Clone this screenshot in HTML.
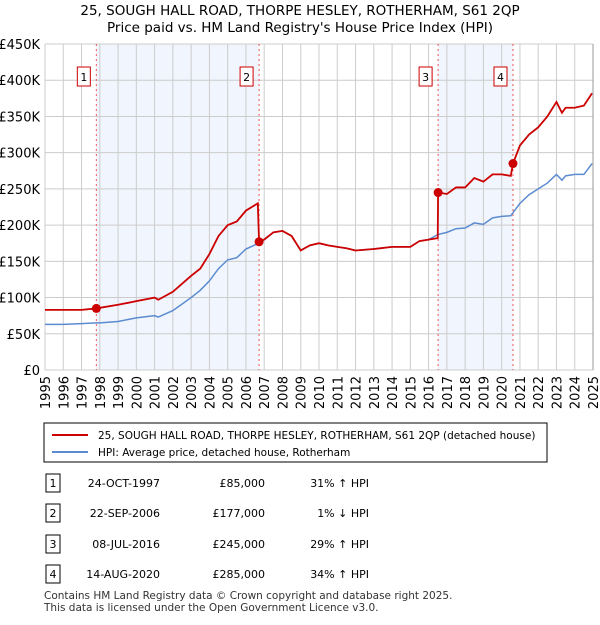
<!DOCTYPE html>
<html><head><meta charset="utf-8"><style>
body{margin:0;background:#fff;font-family:"Liberation Sans","DejaVu Sans",sans-serif;}
svg text{font-family:"DejaVu Sans","Liberation Sans",sans-serif;}
</style></head><body>
<svg id="c" width="600" height="620" xmlns="http://www.w3.org/2000/svg">
<text x="300" y="15" text-anchor="middle" font-size="13.5">25, SOUGH HALL ROAD, THORPE HESLEY, ROTHERHAM, S61 2QP</text>
<text x="300" y="32" text-anchor="middle" font-size="13.5">Price paid vs. HM Land Registry's House Price Index (HPI)</text>
<g id="plot"></g>
<rect x="44" y="423" width="503" height="39" fill="#fff" stroke="#000" stroke-width="1"/>
<line x1="52" y1="435" x2="88" y2="435" stroke="#cc0000" stroke-width="2"/>
<text x="98" y="439" font-size="10.5">25, SOUGH HALL ROAD, THORPE HESLEY, ROTHERHAM, S61 2QP (detached house)</text>
<line x1="52" y1="452" x2="88" y2="452" stroke="#5b8bd0" stroke-width="2"/>
<text x="98" y="456" font-size="10.5">HPI: Average price, detached house, Rotherham</text>
<g id="tbl" font-size="11"></g>
<text x="44" y="599" font-size="10.5" fill="#333">Contains HM Land Registry data © Crown copyright and database right 2025.</text>
<text x="44" y="611" font-size="10.5" fill="#333">This data is licensed under the Open Government Licence v3.0.</text>
</svg>
<script>
const hpiT=[1995,1996,1997,1997.8,1998,1999,2000,2001,2001.2,2002,2003,2003.5,2004,2004.5,2005,2005.5,2006,2006.7,2007,2007.5,2008,2008.5,2009,2009.5,2010,2010.5,2011,2011.5,2012,2013,2014,2015,2015.5,2016,2016.5,2017,2017.5,2018,2018.5,2019,2019.5,2020,2020.5,2021,2021.5,2022,2022.5,2023,2023.3,2023.5,2024,2024.5,2024.95];
const hpiV=[63,63,64,65,65,67,72,75,73,82,100,110,123,140,152,155,167,175,180,190,192,185,165,172,175,172,170,168,165,167,170,170,178,180,187,190,195,196,203,201,210,212,213,230,242,250,258,270,262,268,270,270,285];
const redT=[1995,1997,1997.8,1999,2000,2001,2001.2,2002,2003,2003.5,2004,2004.5,2005,2005.5,2006,2006.65,2006.72,2007,2007.5,2008,2008.5,2009,2009.5,2010,2010.5,2011,2011.5,2012,2013,2014,2015,2015.5,2016,2016.5,2016.52,2017,2017.5,2018,2018.5,2019,2019.5,2020,2020.5,2020.62,2021,2021.5,2022,2022.5,2023,2023.3,2023.5,2024,2024.5,2024.95];
const redV=[83,83,85,90,95,100,97,108,130,140,160,185,200,205,220,230,177,180,190,192,185,165,172,175,172,170,168,165,167,170,170,178,180,182,245,243,252,252,265,260,270,270,268,285,310,325,335,350,370,355,362,362,365,382];
const saleT=[1997.81,2006.72,2016.52,2020.62];
const saleV=[85,177,245,285];
const saleDates=["24-OCT-1997","22-SEP-2006","08-JUL-2016","14-AUG-2020"];
const salePrices=["£85,000","£177,000","£245,000","£285,000"];
const saleHpi=["31% ↑ HPI","1% ↓ HPI","29% ↑ HPI","34% ↑ HPI"];
const yTicks=[0,50,100,150,200,250,300,350,400,450];
const yLabels=["£0","£50K","£100K","£150K","£200K","£250K","£300K","£350K","£400K","£450K"];
const NS="http://www.w3.org/2000/svg";
const X0=45,X1=593,Y0=370,Y1=44;
const xs=t=>X0+(t-1995)/30*(X1-X0);
const ys=v=>Y0-v/450*(Y0-Y1);
const g=document.getElementById('plot');
function mk(tag,a,p){const e=document.createElementNS(NS,tag);for(const k in a)e.setAttribute(k,a[k]);(p||g).appendChild(e);return e;}
for(let i=0;i<saleT.length;i+=2){const r=mk('rect',{x:xs(saleT[i]),y:Y1,width:xs(saleT[i+1])-xs(saleT[i]),height:Y0-Y1,fill:'#eef2fc',opacity:0.8});

}
yTicks.forEach((v,i)=>{const l=mk('line',{x1:X0,x2:X1,y1:ys(v),y2:ys(v),stroke:'#ccc'});


const t=mk('text',{x:40,y:ys(v)+5,'text-anchor':'end','font-size':13});t.textContent=yLabels[i];

});
for(let y=1995;y<=2025;y++){const l=mk('line',{x1:xs(y),x2:xs(y),y1:Y1,y2:Y0,stroke:'#ccc'});


const t=mk('text',{x:0,y:0,'font-size':13,'text-anchor':'end',transform:`translate(${xs(y)+5},376) rotate(-90)`});t.textContent=y;

}
saleT.forEach((t,i)=>{const l=mk('line',{x1:xs(t),x2:xs(t),y1:Y1,y2:Y0,stroke:'#e55','stroke-dasharray':'2,3'});


const b=mk('rect',{x:xs(t)-19,y:67,width:13,height:19,fill:'#fff',stroke:'#cc0000'});


const tx=mk('text',{x:xs(t)-12.5,y:81,'text-anchor':'middle','font-size':11});tx.textContent=i+1;

});
const hp=mk('polyline',{points:hpiT.map((t,i)=>xs(t)+','+ys(hpiV[i])).join(' '),fill:'none',stroke:'#5b8bd0','stroke-width':1.5});


const rp=mk('polyline',{points:redT.map((t,i)=>xs(t)+','+ys(redV[i])).join(' '),fill:'none',stroke:'#cc0000','stroke-width':1.8});


saleT.forEach((t,i)=>{const c=mk('circle',{cx:xs(t),cy:ys(saleV[i]),r:4.5,fill:'#cc0000'});

});
const ax=mk('line',{x1:X1,x2:X1,y1:Y1,y2:Y0,stroke:'#999'});


const tb=document.getElementById('tbl');
const rowY=[483,513,544,574];
saleDates.forEach((d,i)=>{const y=rowY[i];
const b=mk('rect',{x:46,y:y-9,width:14,height:18,fill:'#fff',stroke:'#000'},tb);


const n=mk('text',{x:53,y:y+4,'text-anchor':'middle'},tb);n.textContent=i+1;


const a=mk('text',{x:160,y:y+4,'text-anchor':'end'},tb);a.textContent=d;


const p=mk('text',{x:265,y:y+4,'text-anchor':'end'},tb);p.textContent=salePrices[i];


const h=mk('text',{x:369,y:y+4,'text-anchor':'end'},tb);h.textContent=saleHpi[i];

});
</script>
</body></html>
